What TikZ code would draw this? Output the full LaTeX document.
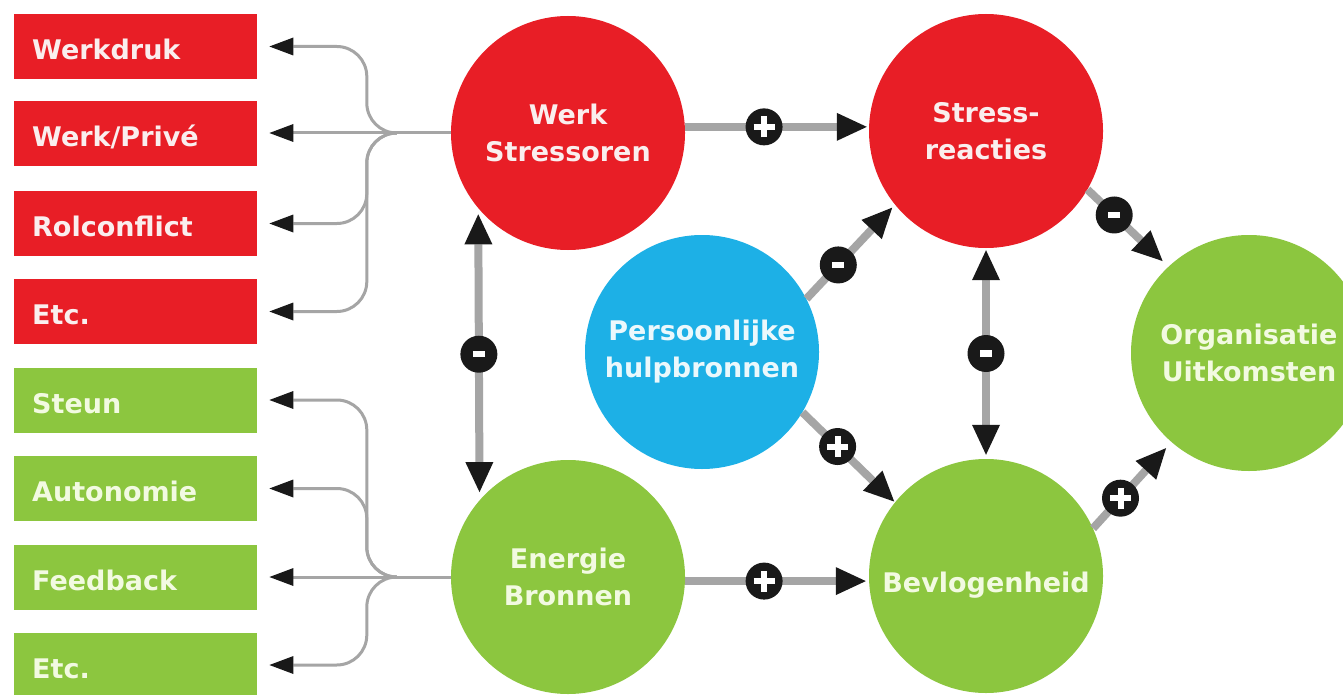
\documentclass[tikz,border=0pt]{standalone}
\usepackage{fontspec}
\setmainfont{DejaVu Sans}
\usetikzlibrary{arrows.meta}
\definecolor{cred}{RGB}{232,30,38}
\definecolor{cgreen}{RGB}{140,198,63}
\definecolor{cblue}{RGB}{29,176,230}
\definecolor{cgray}{RGB}{165,165,165}
\definecolor{tred}{RGB}{250,238,238}
\definecolor{tgreen}{RGB}{242,250,225}
\definecolor{tblue}{RGB}{235,248,252}
\tikzset{
  bub/.style={circle, minimum size=234pt, inner sep=0pt, align=center,
    font=\fontsize{27}{37}\selectfont\bfseries},
  redbub/.style={bub, fill=cred, text=tred},
  greenbub/.style={bub, fill=cgreen, text=tgreen},
  bluebub/.style={bub, fill=cblue, text=tblue},
  lbox/.style={rectangle, anchor=west, minimum width=243pt, minimum height=65pt,
    inner xsep=18pt, inner ysep=0pt, text width=207pt, align=left,
    text height=26pt, text depth=0pt,
    font=\fontsize{27}{37}\selectfont\bfseries},
  redbox/.style={lbox, fill=cred, text=tred},
  greenbox/.style={lbox, fill=cgreen, text=tgreen},
  branch/.style={draw=cgray, line width=3pt, rounded corners=30pt,
    -{Triangle[length=24pt,width=18pt,color=black!90,line width=0pt]}, shorten >=12pt},
  conn/.style={draw=cgray, line width=8pt,
    -{Triangle[length=30pt,width=28pt,color=black!90,line width=0pt]}},
  dconn/.style={draw=cgray, line width=8pt,
    {Triangle[length=30pt,width=28pt,color=black!90,line width=0pt]}-{Triangle[length=30pt,width=28pt,color=black!90,line width=0pt]}},
  badge/.style={circle, fill=black!90, minimum size=37pt, inner sep=0pt},
  signstroke/.style={draw=white, -, shorten >=0pt, shorten <=0pt},
  plusbadge/.style={badge, path picture={
    \draw[signstroke, line width=6pt] ([xshift=-10.5pt]path picture bounding box.center) -- ([xshift=10.5pt]path picture bounding box.center);
    \draw[signstroke, line width=6pt] ([yshift=-10.5pt]path picture bounding box.center) -- ([yshift=10.5pt]path picture bounding box.center);}},
  minusbadge/.style={badge, path picture={
    \draw[signstroke, line width=6.5pt] ([xshift=-6pt]path picture bounding box.center) -- ([xshift=6pt]path picture bounding box.center);}},
}
\begin{document}
\begin{tikzpicture}[x=1pt, y=-1pt]
\useasboundingbox (0,0) rectangle (1343,695);
\clip (0,0) rectangle (1343,695);
\fill[white] (0,0) rectangle (1343,695);

% left boxes
\node[redbox] (wd) at (14,46.5) {Werkdruk};
\node[redbox] (wp) at (14,134) {Werk/Privé};
\node[redbox] (rc) at (14,223.5) {Rolconflict};
\node[redbox] (etr) at (14,311.5) {Etc.};
\node[greenbox] (st) at (14,400) {Steun};
\node[greenbox] (au) at (14,488.5) {Autonomie};
\node[greenbox] (fb) at (14,577) {Feedback};
\node[greenbox] (etg) at (14,665) {Etc.};

% circles
\node[redbub] (ws) at (568,133) {Werk\\Stressoren};
\node[redbub] (sr) at (986,131) {Stress-\\reacties};
\node[bluebub] (ph) at (702,352) {Persoonlijke\\hulpbronnen};
\node[greenbub, minimum size=236pt] (org) at (1249,353) {Organisatie\\Uitkomsten};
\node[greenbub] (eb) at (568,577) {Energie\\Bronnen};
\node[greenbub, text height=32pt, text depth=0pt] (bev) at (986,576) {Bevlogenheid};

% junctions
\coordinate (jr) at ([xshift=-54pt]ws.west);
\coordinate (jg) at ([xshift=-54pt]eb.west);

% branches red
\draw[draw=cgray, line width=3pt] (ws.west) -- (jr);
\draw[branch] (jr) -- ++(-30,0) |- (wd.east);
\draw[branch] (jr) -- (jr -| wp.east);
\draw[branch] (jr) -- ++(-30,0) |- (rc.east);
\draw[branch] (jr) -- ++(-30,0) |- (etr.east);
% branches green
\draw[draw=cgray, line width=3pt] (eb.west) -- (jg);
\draw[branch] (jg) -- ++(-30,0) |- (st.east);
\draw[branch] (jg) -- ++(-30,0) |- (au.east);
\draw[branch] (jg) -- (jg -| fb.east);
\draw[branch] (jg) -- ++(-30,0) |- (etg.east);

% main connectors
\draw[conn, shorten >=2pt] (ws.3) -- (ws.3 -| sr.west) node[plusbadge, pos=0.43] (b1) {};
\draw[conn, shorten >=3pt] (eb.-2) -- (eb.-2 -| bev.west) node[plusbadge, pos=0.43] (b2) {};
\draw[conn, shorten >=4pt] (ph.27) -- (sr.219) node[minusbadge, pos=0.36] (b3) {};
\draw[conn, shorten >=1pt] (ph.-31) -- (bev.141) node[plusbadge, pos=0.38] (b4) {};
\draw[conn, shorten >=8pt] (sr.-30) -- (org.133) node[minusbadge, pos=0.33] (b5) {};
\draw[conn, shorten >=8pt] (bev.24) -- (org.229) node[plusbadge, pos=0.35] (b6) {};
\draw[dconn, shorten <=2pt, shorten >=4pt] (sr.south) -- (bev.north) node[minusbadge, pos=0.5] (b7) {};
\draw[dconn, shorten <=6pt, shorten >=8pt] (ws.220.5) -- (eb.139.5) node[minusbadge, pos=0.5] (b8) {};
\end{tikzpicture}
\end{document}
